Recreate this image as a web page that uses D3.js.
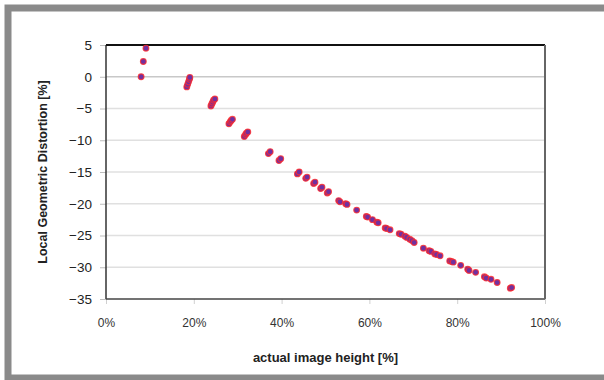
<!DOCTYPE html>
<html>
<head>
<meta charset="utf-8">
<script src="https://cdn.jsdelivr.net/npm/d3@7"></script>
<style>
  body { margin: 0; background: #fff; }
  text { font-family: "Liberation Sans", Arial, sans-serif; }
</style>
</head>
<body>
<div id="chart"></div>
<script>
// actual image height [%] and local distortion [%]
const heightPct = [
  8.0, 8.5, 9.1,
  18.4, 18.6, 18.8, 19.0, 19.1,
  23.9, 24.1, 24.3, 24.5, 24.8,
  28.0, 28.3, 28.5, 28.8,
  31.5, 31.8, 32.0, 32.3,
  37.0, 37.4, 39.4, 39.8,
  43.6, 44.0, 45.5, 45.8, 47.3, 47.6, 48.9, 49.2, 50.4, 50.7,
  53.0, 53.3, 54.6, 54.9, 57.1, 59.3, 59.6, 60.7, 61.7, 62.0,
  63.6, 63.9, 64.7, 66.8, 67.2, 68.1, 68.5, 69.2, 69.7, 70.2,
  72.3, 73.6, 74.0, 74.9, 75.3, 76.1,
  78.3, 78.7, 79.1, 80.8, 82.4, 82.7, 84.2,
  86.2, 86.6, 87.7, 89.1, 92.1, 92.4
];
const distortion = [
  0.0, 2.4, 4.5,
  -1.6, -1.2, -0.8, -0.4, -0.1,
  -4.6, -4.3, -4.0, -3.7, -3.5,
  -7.4, -7.1, -6.9, -6.7,
  -9.4, -9.1, -8.9, -8.7,
  -12.1, -11.8, -13.2, -12.9,
  -15.3, -15.0, -16.0, -15.8, -16.8, -16.6, -17.6, -17.4, -18.3, -18.1,
  -19.5, -19.7, -20.0, -20.1, -21.0, -22.0, -22.1, -22.5, -22.9, -23.0,
  -23.8, -23.9, -24.1, -24.7, -24.8, -25.1, -25.3, -25.6, -25.8, -26.1,
  -27.0, -27.4, -27.5, -27.9, -28.0, -28.2,
  -29.0, -29.1, -29.2, -29.7, -30.3, -30.5, -30.8,
  -31.5, -31.7, -31.9, -32.4, -33.3, -33.2
];
const yTicks = [5, 0, -5, -10, -15, -20, -25, -30, -35];
const xTicks = [0, 0.2, 0.4, 0.6, 0.8, 1.0];

const width = 604, height = 380;
const margin = { top: 45, right: 59, bottom: 81, left: 106 };
const plotW = width - margin.left - margin.right;
const plotH = height - margin.top - margin.bottom;

const svg = d3.select("#chart")
  .append("svg")
  .attr("width", width)
  .attr("height", height);

// outer frame of the picture
svg.append("rect")
  .attr("x", 8)
  .attr("y", 8)
  .attr("width", 640)
  .attr("height", 370)
  .attr("fill", "none")
  .attr("stroke", "#8a8a8a")
  .attr("stroke-width", 7);

const x = d3.scaleLinear().domain([0, 1]).range([0, plotW]);
const y = d3.scaleLinear().domain([-35, 5]).range([plotH, 0]);

const g = svg.append("g")
  .attr("transform", `translate(${margin.left},${margin.top})`);

// horizontal gridlines
g.selectAll(".grid")
  .data(yTicks.filter(d => d > -35 && d < 5))
  .enter()
  .append("line")
  .attr("x1", 0)
  .attr("x2", plotW)
  .attr("y1", d => y(d))
  .attr("y2", d => y(d))
  .style("stroke", d => d === 0 ? "#c8c8c8" : "#e0e0e0")
  .style("stroke-width", "1.5px");

const fmtY = d => (d < 0 ? "\u2212" + Math.abs(d) : String(d));

const yAxis = g.append("g")
  .call(d3.axisLeft(y).tickValues(yTicks).tickSize(6).tickPadding(8).tickFormat(fmtY));
yAxis.select(".domain").remove();
yAxis.selectAll(".tick line").style("stroke", "#bdbdbd");
yAxis.selectAll(".tick text")
  .attr("font-size", "13.5px")
  .attr("fill", "#222")
  .style("font-family", "Liberation Sans, Arial, sans-serif");

const xAxis = g.append("g")
  .attr("transform", `translate(0,${plotH})`)
  .call(d3.axisBottom(x).tickValues(xTicks).tickSize(5).tickPadding(14).tickFormat(d3.format(".0%")));
xAxis.select(".domain").remove();
xAxis.selectAll(".tick line").style("stroke", "#d0d0d0");
xAxis.selectAll(".tick text")
  .attr("font-size", "12px")
  .attr("fill", "#333")
  .style("font-family", "Liberation Sans, Arial, sans-serif");

// plot border: dark left/bottom, black top, grey right
g.append("line").attr("x1", 0).attr("x2", 0).attr("y1", 0).attr("y2", plotH)
  .style("stroke", "#333").style("stroke-width", "1.5px");
g.append("line").attr("x1", 0).attr("x2", plotW).attr("y1", plotH).attr("y2", plotH)
  .style("stroke", "#444").style("stroke-width", "1.5px");
g.append("line").attr("x1", 0).attr("x2", plotW).attr("y1", 0).attr("y2", 0)
  .style("stroke", "#111").style("stroke-width", "2px");
g.append("line").attr("x1", plotW).attr("x2", plotW).attr("y1", 0).attr("y2", plotH)
  .style("stroke", "#666").style("stroke-width", "2px");

// points
const points = heightPct.map((h, i) => ({ h: h / 100, d: distortion[i] }));
g.selectAll(".pt")
  .data(points)
  .enter()
  .append("circle")
  .attr("cx", d => x(d.h))
  .attr("cy", d => y(d.d))
  .attr("r", 2.9)
  .style("fill", "#7030a0")
  .style("stroke", "#ff2a2a")
  .style("stroke-width", "1.1px")
  .style("stroke-opacity", 0.8);

// axis titles
svg.append("text")
  .attr("x", margin.left + plotW / 2)
  .attr("y", 362)
  .attr("text-anchor", "middle")
  .attr("font-size", "13px")
  .attr("font-weight", "bold")
  .attr("fill", "#222")
  .text("actual image height [%]");

svg.append("text")
  .attr("transform", `translate(47,${margin.top + plotH / 2}) rotate(-90)`)
  .attr("text-anchor", "middle")
  .attr("font-size", "12.5px")
  .attr("font-weight", "bold")
  .attr("fill", "#222")
  .text("Local Geometric Distortion [%]");
</script>
</body>
</html>
